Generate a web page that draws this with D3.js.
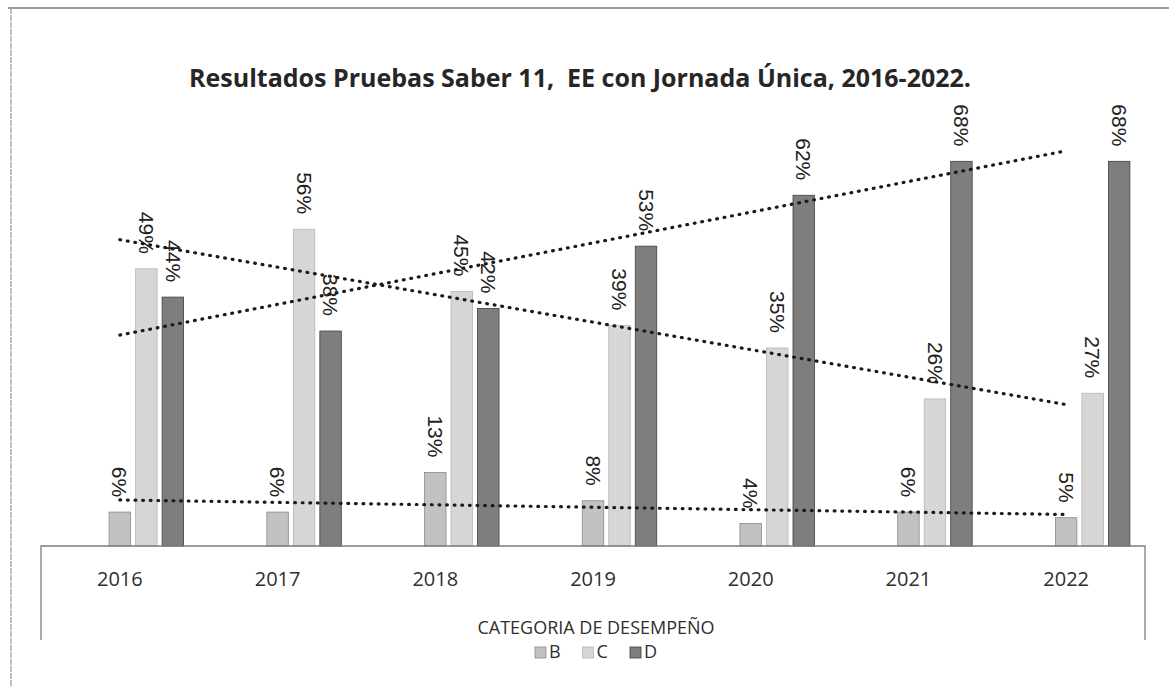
<!DOCTYPE html>
<html>
<head>
<meta charset="utf-8">
<script src="https://cdn.jsdelivr.net/npm/d3@7"></script>
<style>
    body { margin: 0; background: #fff; }
    svg { display: block; }
</style>
</head>
<body>
<div id="chart"></div>
<script>
// Resultados Pruebas Saber 11 - clustered columns with linear trendlines

const years = ["2016", "2017", "2018", "2019", "2020", "2021", "2022"];
const seriesKeys = ["B", "C", "D"];
const valuesB = [6, 6, 13, 8, 4, 6, 5];
const valuesC = [49, 56, 45, 39, 35, 26, 27];
const valuesD = [44, 38, 42, 53, 62, 68, 68];
// the source chart keeps two empty series slots before B inside each category
const slotKeys = ["_1", "_2", "B", "C", "D"];

const width = 1169,
    height = 687,
    axisLeft = 41,
    axisRight = 1145,
    baseY = 546;

const colors = { B: "#c2c2c2", C: "#d6d6d6", D: "#7e7e7e" };
const strokes = { B: "#8a8a8a", C: "#b5b5b5", D: "#3f3f3f" };

let data = years.map((y, i) => ({ year: y, B: valuesB[i], C: valuesC[i], D: valuesD[i] }));

let svg = d3.select("#chart").append("svg")
    .attr("width", width)
    .attr("height", height);

// Frame
// ---------------------------------------------------------
svg.append("line")
    .attr("x1", 8).attr("y1", 8).attr("x2", width).attr("y2", 8)
    .attr("stroke", "#7a7a7a").attr("stroke-width", 1.3);
svg.append("line")
    .attr("x1", 11).attr("y1", 8).attr("x2", 11).attr("y2", height)
    .attr("stroke", "#a0a0a0").attr("stroke-width", 1.3)
    .attr("stroke-dasharray", "6,1");

// Title
// ---------------------------------------------------------
svg.append("text")
    .attr("x", 580)
    .attr("y", 87)
    .attr("text-anchor", "middle")
    .attr("font-family", "'Open Sans', sans-serif")
    .attr("font-weight", "bold")
    .attr("font-size", 25)
    .attr("fill", "#262626")
    .style("white-space", "pre")
    .text("Resultados Pruebas Saber 11,  EE con Jornada Única, 2016-2022.");

// Scales
// ---------------------------------------------------------
let x0 = d3.scaleBand()
    .domain(years)
    .range([axisLeft, axisRight]);

let slotWidth = 25.5;
let x1 = d3.scaleBand()
    .domain(slotKeys)
    .range([x0.bandwidth() / 2 - 2.5 * slotWidth, x0.bandwidth() / 2 + 2.5 * slotWidth])
    .paddingInner(0.19);

let y = d3.scaleLinear()
    .domain([0, 70])
    .range([baseY, 150]);

// Bars
// ---------------------------------------------------------
let groups = svg.selectAll(".group")
    .data(data)
    .enter()
    .append("g")
    .attr("class", "group")
    .attr("transform", d => `translate(${x0(d.year)},0)`);

groups.selectAll("rect")
    .data(d => seriesKeys.map(k => ({ key: k, value: d[k] })))
    .enter()
    .append("rect")
    .attr("x", d => x1(d.key))
    .attr("y", d => y(d.value))
    .attr("width", x1.bandwidth())
    .attr("height", d => baseY - y(d.value))
    .attr("fill", d => colors[d.key])
    .attr("stroke", d => strokes[d.key])
    .attr("stroke-width", 0.8);

// Axis line with end ticks
// ---------------------------------------------------------
svg.append("path")
    .attr("d", `M${axisLeft},640V${baseY}H${axisRight}V640`)
    .attr("fill", "none")
    .attr("stroke", "#7c7c7c")
    .attr("stroke-width", 1.3);

let xAxis = d3.axisBottom(x0).tickSize(0).tickPadding(0);
let axisG = svg.append("g")
    .attr("transform", `translate(0,${baseY})`)
    .call(xAxis);
axisG.select(".domain").remove();
axisG.selectAll("text")
    .attr("y", 40)
    .attr("dy", 0)
    .attr("font-family", "'Open Sans', sans-serif")
    .attr("font-size", 20)
    .attr("fill", "#2e2e2e");

// Trendlines (linear least squares on each series)
// ---------------------------------------------------------
let idx = years.map((d, i) => i + 1);

function linearFit(vals) {
    let mx = d3.mean(idx), my = d3.mean(vals);
    let num = d3.sum(idx, (v, i) => (v - mx) * (vals[i] - my));
    let den = d3.sum(idx, v => (v - mx) * (v - mx));
    let slope = num / den;
    return t => my + slope * (t - mx);
}

let lineGen = d3.line()
    .x(d => x0(years[d.t - 1]) + x0.bandwidth() / 2)
    .y(d => y(d.v));

seriesKeys.forEach(k => {
    let fit = linearFit(data.map(d => d[k]));
    let pts = [1, idx.length].map(t => ({ t: t, v: fit(t) }));
    svg.append("path")
        .datum(pts)
        .attr("d", lineGen)
        .attr("fill", "none")
        .attr("stroke", "#1a1a1a")
        .attr("stroke-width", 3.2)
        .attr("stroke-linecap", "round")
        .attr("stroke-dasharray", "0.8,6.8");
});

// Data labels
// ---------------------------------------------------------
groups.selectAll(".valLabel")
    .data(d => seriesKeys.map(k => ({ key: k, value: d[k] })))
    .enter()
    .append("text")
    .attr("class", "valLabel")
    .attr("transform", d => `translate(${x1(d.key) + x1.bandwidth() / 2},${y(d.value) - 15}) rotate(90)`)
    .attr("text-anchor", "end")
    .attr("dy", "0.35em")
    .attr("font-family", "'Liberation Sans', Arial, sans-serif")
    .attr("font-size", 21)
    .attr("fill", "#222")
    .text(d => d.value + "%");

// Legend
// ---------------------------------------------------------
svg.append("text")
    .attr("x", 596)
    .attr("y", 634)
    .attr("text-anchor", "middle")
    .attr("font-family", "'Open Sans', sans-serif")
    .attr("font-size", 18)
    .attr("fill", "#2e2e2e")
    .text("CATEGORIA DE DESEMPEÑO");

let legend = svg.selectAll(".legendItem")
    .data(seriesKeys)
    .enter()
    .append("g")
    .attr("class", "legendItem")
    .attr("transform", (d, i) => `translate(${535 + i * 47.5},647)`);

legend.append("rect")
    .attr("width", 11)
    .attr("height", 11)
    .attr("fill", d => colors[d])
    .attr("stroke", d => strokes[d])
    .attr("stroke-width", 0.8);

legend.append("text")
    .attr("x", 14)
    .attr("y", 11)
    .attr("font-family", "'Open Sans', sans-serif")
    .attr("font-size", 18)
    .attr("fill", "#2e2e2e")
    .text(d => d);
</script>
</body>
</html>
